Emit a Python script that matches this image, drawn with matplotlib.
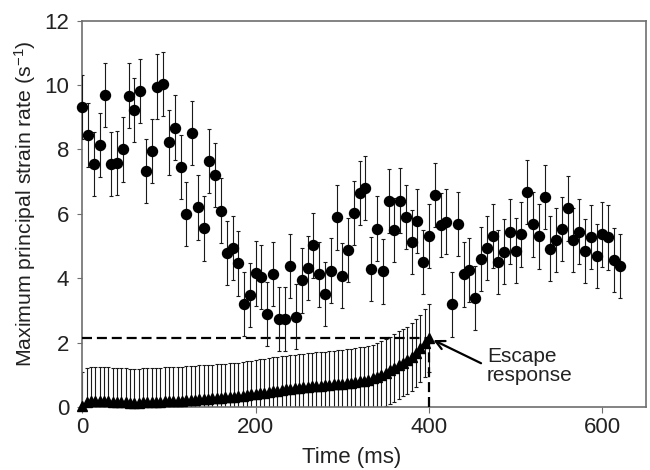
import numpy as np
import matplotlib
matplotlib.use("Agg")
import matplotlib.pyplot as plt

plt.rcParams['font.family'] = ['Liberation Sans', 'DejaVu Sans']
plt.rcParams['mathtext.fontset'] = 'custom'
plt.rcParams['mathtext.rm'] = 'Liberation Sans'

# ---- data ----
circle_vals = [9.32, 8.45, 7.55, 8.13, 9.69, 7.55, 7.57, 8.00, 9.67, 9.23,
               9.82, 7.34, 7.95, 9.95, 10.03, 8.22, 8.68, 7.45, 6.00, 8.52,
               6.20, 5.55, 7.65, 7.20, 6.10, 4.78, 4.94, 4.46, 3.20, 3.48,
               4.15, 4.03, 2.88, 4.14, 2.74, 2.74, 4.38, 2.81, 3.93, 4.31,
               5.02, 4.12, 3.51, 4.24, 5.89, 4.08, 4.88, 6.03, 6.65, 6.80,
               4.29, 5.54, 4.21, 6.40, 5.49, 6.41, 5.91, 5.13, 5.77, 4.50,
               5.31, 6.59, 5.65, 5.76, 3.19, 5.68, 4.12, 4.26, 3.38, 4.59,
               4.93, 5.31, 4.50, 4.83, 5.45, 4.86, 5.36, 6.68, 5.67, 5.30,
               6.52, 4.92, 5.18, 5.52, 6.17, 5.19, 5.45, 4.85, 5.29, 4.70,
               5.36, 5.27, 4.57, 4.38]
circle_times = np.round(np.arange(len(circle_vals)) * 20.0 / 3.0, 2)
circle_err = 1.0

tri_vals = [0.03, 0.15, 0.18, 0.20, 0.20, 0.19, 0.18, 0.17, 0.16, 0.15,
            0.15, 0.14, 0.14, 0.14, 0.15, 0.15, 0.16, 0.16, 0.17, 0.18,
            0.18, 0.19, 0.20, 0.20, 0.21, 0.22, 0.23, 0.24, 0.25, 0.26,
            0.27, 0.28, 0.29, 0.30, 0.31, 0.32, 0.33, 0.35, 0.37, 0.39,
            0.41, 0.43, 0.45, 0.47, 0.49, 0.51, 0.53, 0.55, 0.57, 0.58,
            0.60, 0.61, 0.63, 0.64, 0.65, 0.66, 0.67, 0.68, 0.70, 0.71,
            0.72, 0.74, 0.76, 0.78, 0.80, 0.82, 0.85, 0.89, 0.94, 1.00,
            1.07, 1.14, 1.22, 1.30, 1.38, 1.45, 1.55, 1.68, 1.82, 1.98,
            2.15]
tri_times = np.arange(len(tri_vals)) * 5.0
tri_err = 1.05

escape_time = 400
escape_value = 2.15

xticks = [0, 200, 400, 600]
yticks = [0, 2, 4, 6, 8, 10, 12]

# ---- figure ----
fig = plt.figure(figsize=(6.5, 4.7), dpi=100)
ax = fig.add_axes([0.1254, 0.134, 0.868, 0.822])

text_col = '#222222'
spine_col = '#6e6e6e'

# triangles with error bars
ax.errorbar(tri_times, tri_vals, yerr=tri_err, fmt='none', ecolor='#1a1a1a',
            elinewidth=0.8, capsize=1.6, capthick=0.8, zorder=2)
# escape dashed lines
ax.plot([0, escape_time], [escape_value, escape_value], color='black', lw=1.6,
        linestyle=(0, (4.5, 2.2)), zorder=3)
ax.plot([escape_time, escape_time], [0, escape_value], color='black', lw=1.6,
        linestyle=(0, (4.5, 2.2)), zorder=3)
ax.plot(tri_times, tri_vals, linestyle='none', marker='^', color='black',
        markersize=6.8, clip_on=False, zorder=4)

# circles with error bars
ax.errorbar(circle_times, circle_vals, yerr=circle_err, fmt='none',
            ecolor='#1a1a1a', elinewidth=0.8, capsize=1.6, capthick=0.8,
            zorder=5)
ax.plot(circle_times, circle_vals, linestyle='none', marker='o', color='black',
        markersize=7.2, clip_on=False, zorder=6)

# annotation
ax.annotate('', xy=(405, 2.08), xytext=(460, 1.36),
            arrowprops=dict(arrowstyle='->', color='black', lw=1.6,
                            mutation_scale=16, shrinkA=0, shrinkB=0),
            zorder=7)
ax.text(467, 1.26, 'Escape\nresponse', fontsize=15, color=text_col,
        ha='left', va='center', linespacing=1.0)

ax.set_xlim(-1, 650)
ax.set_ylim(0, 12)
ax.set_xticks(xticks)
ax.set_yticks(yticks)

for s in ax.spines.values():
    s.set_color(spine_col)
    s.set_linewidth(1.2)

ax.tick_params(axis='x', direction='out', length=4.5, width=0.8,
               color=spine_col, labelsize=16, labelcolor=text_col, pad=3)
ax.tick_params(axis='y', direction='out', length=3.5, width=0.8,
               color=spine_col, labelsize=16, labelcolor=text_col, pad=5.5)

ax.set_xlabel('Time (ms)', fontsize=16, color=text_col)
ax.set_ylabel(r'Maximum principal strain rate (s$\mathregular{^{-1}}$)',
              fontsize=15.3, color=text_col)
ax.xaxis.set_label_coords(0.479, -0.13)
ax.xaxis.label.set_verticalalignment('center')
ax.yaxis.set_label_coords(-0.100, 0.525)
ax.yaxis.label.set_verticalalignment('center')

fig.savefig('out.png', dpi=100)
